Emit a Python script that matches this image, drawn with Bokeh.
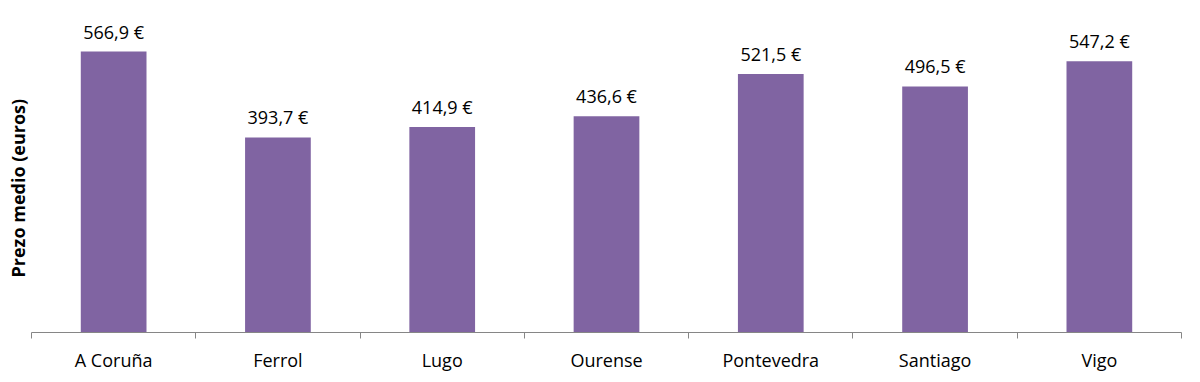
from bokeh.plotting import figure
from bokeh.models import ColumnDataSource, FixedTicker, Title, Range1d
from bokeh.core.properties import value
from bokeh.embed import file_html
from bokeh.resources import INLINE

categories = ["A Coruña", "Ferrol", "Lugo", "Ourense", "Pontevedra", "Santiago", "Vigo"]
prices = [566.9, 393.7, 414.9, 436.6, 521.5, 496.5, 547.2]
price_labels = ["566,9 €", "393,7 €", "414,9 €", "436,6 €", "521,5 €", "496,5 €", "547,2 €"]
y_title = "Prezo medio (euros)"

xs = [i + 0.5 for i in range(len(categories))]
src = ColumnDataSource(dict(x=xs, top=prices, lab=price_labels))

p = figure(width=1200, height=382, output_backend="svg", toolbar_location=None,
           x_range=Range1d(0, len(categories)), y_range=Range1d(0, 670),
           min_border_left=31, min_border_right=19, min_border_top=0, min_border_bottom=50)
p.outline_line_color = None
p.xgrid.visible = False
p.ygrid.visible = False
p.yaxis.visible = False
p.background_fill_color = "white"
p.border_fill_color = "white"

p.vbar(x="x", top="top", width=0.4, bottom=0, source=src, fill_color="#8064A2", line_color=None)
p.text(x="x", y="top", text="lab", source=src, text_align="center", text_baseline="bottom",
       y_offset=-8, text_font=value("Open Sans"), text_font_size="18px", text_color="black")

ax = p.xaxis[0]
ax.ticker = FixedTicker(ticks=xs, minor_ticks=list(range(len(categories) + 1)))
ax.major_label_overrides = {x: c for x, c in zip(xs, categories)}
ax.major_tick_line_color = None
ax.minor_tick_line_color = "#868686"
ax.minor_tick_out = 6
ax.minor_tick_in = 0
ax.axis_line_color = "#868686"
ax.major_label_text_font = "Open Sans"
ax.major_label_text_font_size = "18px"
ax.major_label_text_color = "black"
ax.major_label_standoff = 9

yt = Title(text=y_title, align="left", offset=55, text_font="Open Sans", text_font_style="bold",
           text_font_size="18px", text_color="black", standoff=4)
p.add_layout(yt, "left")

open("out.html", "w").write(file_html(p, INLINE))
